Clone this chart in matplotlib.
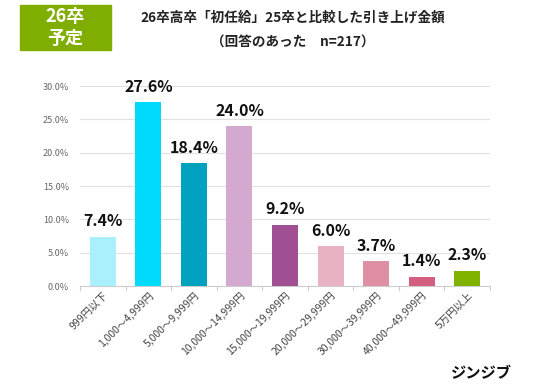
import matplotlib.pyplot as plt
from matplotlib.patches import Rectangle

plt.rcParams['font.family'] = ['Noto Sans CJK JP', 'DejaVu Sans']

categories = ['999円以下', '1,000～4,999円', '5,000～9,999円', '10,000～14,999円',
              '15,000～19,999円', '20,000～29,999円', '30,000～39,999円',
              '40,000～49,999円', '5万円以上']
values = [7.4, 27.6, 18.4, 24.0, 9.2, 6.0, 3.7, 1.4, 2.3]
colors = ['#aaf0fc', '#00dafc', '#00a2c0', '#d4a9d0', '#a05092',
          '#e9b2c2', '#df8fa3', '#d25f80', '#80b200']
yticks = [0, 5, 10, 15, 20, 25, 30]

fig = plt.figure(figsize=(5.36, 3.86), dpi=100)
ax = fig.add_axes([80 / 536, 1 - 286 / 386, 410 / 536, 200 / 386])

x = list(range(len(categories)))
ax.bar(x, values, width=0.57, color=colors, zorder=3)
for xi, v in zip(x, values):
    ax.text(xi, v + 1.1, f'{v:.1f}%', ha='center', va='bottom', fontsize=11.5,
            fontweight='bold', color='#111111', zorder=4)

ax.set_xlim(-0.5, len(categories) - 0.5)
ax.set_ylim(0, 30)
ax.set_yticks(yticks)
ax.set_yticklabels([f'{t:.1f}%' for t in yticks], fontsize=6.5, color='#666666')
ax.set_xticks(x)
ax.set_xticklabels(categories, rotation=45, ha='right', rotation_mode='anchor',
                   fontsize=7.5, color='#444444')
ax.grid(axis='y', color='#e0e0e0', linewidth=0.8, zorder=0)
for s in ['top', 'right', 'left']:
    ax.spines[s].set_visible(False)
ax.spines['bottom'].set_color('#cccccc')
ax.tick_params(axis='y', length=0, pad=8)
ax.tick_params(axis='x', length=0, pad=3)
# small tick marks between categories
for b in range(len(categories) + 1):
    ax.plot([b - 0.5, b - 0.5], [0, -0.6], color='#cccccc', lw=0.8, clip_on=False)

# green badge
fig.patches.append(Rectangle((20 / 536, 1 - 50 / 386), 91 / 536, 45 / 386,
                             transform=fig.transFigure, color='#7fae00'))
fig.text(65 / 536, 1 - 16 / 386, '26卒', ha='center', va='center', fontsize=13,
         fontweight='bold', color='white')
fig.text(65 / 536, 1 - 39 / 386, '予定', ha='center', va='center', fontsize=13,
         fontweight='bold', color='white')

fig.text(293 / 536, 1 - 18 / 386, '26卒高卒「初任給」25卒と比較した引き上げ金額',
         ha='center', va='center', fontsize=9.8, fontweight='bold', color='#222222')
fig.text(293 / 536, 1 - 43 / 386, '（回答のあった　n=217）',
         ha='center', va='center', fontsize=9.8, fontweight='bold', color='#222222')

fig.text(512 / 536, 1 - 373 / 386, 'ジンジブ', ha='right', va='center', fontsize=11,
         fontweight='bold', color='#111111')

fig.savefig('out.png', dpi=100, facecolor='white')
